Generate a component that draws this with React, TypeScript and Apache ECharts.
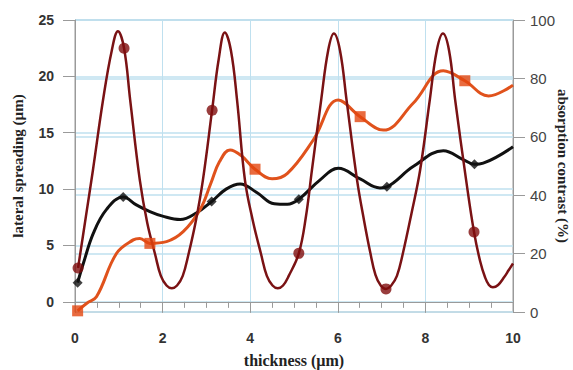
import React, { useEffect, useRef } from "react";
import * as echarts from "echarts";

// Dark red oscillating curve (left axis, µm scale)
const redX = [0.07, 0.25, 0.41, 0.64, 0.84, 0.98, 1.12, 1.26, 1.48, 1.65, 1.83, 1.96, 2.09, 2.21, 2.33, 2.46, 2.59, 2.76, 2.92, 3.13, 3.28, 3.42, 3.56, 3.7, 3.88, 4.06, 4.25, 4.38, 4.51, 4.63, 4.75, 4.88, 5.11, 5.27, 5.41, 5.62, 5.78, 5.91, 6.05, 6.2, 6.44, 6.6, 6.74, 6.86, 6.98, 7.1, 7.22, 7.35, 7.48, 7.68, 7.88, 8.1, 8.26, 8.4, 8.54, 8.68, 8.93, 9.11, 9.25, 9.36, 9.45, 9.54, 9.66, 9.8, 9.9, 10.0];
const redY = [3.0, 7.6, 11.7, 17.9, 22.3, 24.0, 22.5, 17.9, 10.8, 7.0, 4.2, 2.3, 1.45, 1.2, 1.45, 2.3, 4.2, 7.2, 10.8, 17.0, 21.5, 23.9, 22.3, 17.9, 10.8, 7.2, 4.2, 2.3, 1.45, 1.2, 1.45, 2.3, 4.3, 7.5, 11.7, 17.9, 22.3, 23.8, 22.3, 17.9, 10.8, 7.2, 4.4, 2.4, 1.45, 1.15, 1.45, 2.3, 4.2, 7.8, 11.7, 17.9, 22.3, 23.8, 22.3, 17.9, 10.8, 6.2, 3.6, 2.2, 1.5, 1.3, 1.5, 2.2, 2.8, 3.4];
const redMarkX = [0.07, 1.12, 3.13, 5.11, 7.1, 9.11];
const redMarkY = [3.0, 22.5, 17.0, 4.3, 1.15, 6.2];

// Black curve: lateral spreading (µm)
const blackX = [0.06, 0.19, 0.42, 0.72, 1.1, 1.4, 1.71, 2.0, 2.4, 2.78, 3.12, 3.45, 3.77, 4.15, 4.55, 4.85, 5.11, 5.59, 6.01, 6.51, 6.96, 7.12, 7.72, 8.41, 8.87, 9.12, 9.32, 10.0];
const blackY = [1.7, 3.4, 6.1, 8.2, 9.3, 8.6, 8.0, 7.6, 7.3, 7.9, 8.9, 10.0, 10.45, 9.7, 8.7, 8.65, 9.1, 10.8, 11.85, 10.9, 10.1, 10.2, 12.0, 13.4, 12.6, 12.2, 12.3, 13.75];
const blackMarkX = [0.06, 1.1, 3.12, 5.11, 7.12, 9.12];
const blackMarkY = [1.7, 9.3, 8.9, 9.1, 10.2, 12.2];

// Orange curve: absorption contrast (%)
const orangeX = [0.06, 0.27, 0.49, 0.95, 1.33, 1.48, 1.71, 2.09, 2.47, 2.85, 3.1, 3.3, 3.54, 3.8, 4.11, 4.5, 4.85, 5.44, 6.01, 6.51, 7.04, 7.72, 8.41, 8.9, 9.44, 10.0];
const orangeY = [0.4, 3.0, 5.2, 20.1, 24.7, 25.2, 23.5, 24.1, 27.5, 34.9, 44.0, 51.5, 55.5, 53.5, 48.9, 45.6, 47.5, 58.9, 72.6, 66.9, 62.3, 71.5, 82.6, 79.2, 74.0, 77.7];
const orangeMarkX = [0.06, 1.71, 4.11, 6.51, 8.9];
const orangeMarkY = [0.4, 23.5, 48.9, 66.9, 79.2];

const leftTicks = [0, 5, 10, 15, 20, 25];
const rightTicks = [0, 20, 40, 60, 80, 100];
const xTicks = [0, 2, 4, 6, 8, 10];

const zip = (xs: number[], ys: number[]) => xs.map((x, i) => [x, ys[i]]);

const RED = "#7a1214";
const BLACK = "#111111";
const ORANGE = "#e0521c";
const GRID_BLUE = "#bfe0ef";
const AXIS_GRAY = "#9a9a9a";

export default function App() {
  const ref = useRef<HTMLDivElement>(null);
  useEffect(() => {
    if (!ref.current) return;
    const chart = echarts.init(ref.current, null, { renderer: "svg" });
    chart.setOption({
      animation: false,
      backgroundColor: "#ffffff",
      grid: {
        left: 75, right: 60, top: 20, bottom: 58, show: true, borderColor: AXIS_GRAY, borderWidth: 1,
        containLabel: false, outerBoundsMode: "none",
      },
      xAxis: {
        type: "value",
        min: xTicks[0],
        max: xTicks[xTicks.length - 1],
        interval: 2,
        name: "thickness (µm)",
        nameLocation: "middle",
        nameGap: 40,
        nameMoveOverlap: false,
        nameTextStyle: { fontFamily: "Liberation Serif", fontWeight: "bold", fontSize: 16, color: "#222" },
        axisLine: { lineStyle: { color: AXIS_GRAY, width: 1 } },
        axisTick: { show: true, length: 11, lineStyle: { color: AXIS_GRAY } },
        minorTick: { show: true, splitNumber: 4, length: 6, lineStyle: { color: AXIS_GRAY } },
        axisLabel: { margin: 19, fontFamily: "Liberation Sans", fontWeight: "bold", fontSize: 14, color: "#333" },
        splitLine: { show: true, lineStyle: { color: GRID_BLUE, width: 1 } },
      },
      yAxis: [
        {
          type: "value",
          min: -0.9,
          max: 25,
          position: "left",
          name: "lateral spreading (µm)",
          nameLocation: "middle",
          nameGap: 50,
          nameMoveOverlap: false,
          nameTextStyle: { fontFamily: "Liberation Serif", fontWeight: "bold", fontSize: 15, color: "#222" },
          axisLine: { show: true, lineStyle: { color: AXIS_GRAY } },
          axisTick: { show: true, length: 12, customValues: leftTicks, lineStyle: { color: AXIS_GRAY } },
          axisLabel: { customValues: leftTicks, margin: 21, fontFamily: "Liberation Sans", fontWeight: "bold", fontSize: 14, color: "#333" },
          splitLine: { show: true, lineStyle: { color: GRID_BLUE, width: 1.5 } },
        },
        {
          type: "value",
          min: rightTicks[0],
          max: rightTicks[rightTicks.length - 1],
          interval: 20,
          position: "right",
          name: "absorption contrast (%)",
          nameLocation: "middle",
          nameGap: 42,
          nameRotate: -90,
          nameMoveOverlap: false,
          nameTextStyle: { fontFamily: "Liberation Serif", fontWeight: "bold", fontSize: 15, color: "#222" },
          axisLine: { show: true, lineStyle: { color: AXIS_GRAY } },
          axisTick: { show: true, length: 12, lineStyle: { color: AXIS_GRAY } },
          axisLabel: { margin: 17, fontFamily: "Liberation Sans", fontSize: 15, color: "#444" },
          splitLine: { show: true, lineStyle: { color: GRID_BLUE, width: 1.5 } },
        },
      ],
      series: [
        {
          type: "line", yAxisIndex: 0, data: zip(blackX, blackY), smooth: 0.4, showSymbol: false,
          lineStyle: { color: BLACK, width: 3 }, z: 2,
        },
        {
          type: "line", yAxisIndex: 1, data: zip(orangeX, orangeY), smooth: 0.4, showSymbol: false,
          lineStyle: { color: ORANGE, width: 3 }, z: 3,
        },
        {
          type: "line", yAxisIndex: 0, data: zip(redX, redY), smooth: 0.4, showSymbol: false,
          lineStyle: { color: RED, width: 2.5 }, z: 4,
        },
        {
          type: "scatter", yAxisIndex: 0, data: zip(blackMarkX, blackMarkY), symbol: "diamond", symbolSize: 10,
          itemStyle: { color: BLACK }, z: 5,
        },
        {
          type: "scatter", yAxisIndex: 1, data: zip(orangeMarkX, orangeMarkY), symbol: "rect", symbolSize: 11,
          itemStyle: { color: "#e4460f" }, z: 5,
        },
        {
          type: "scatter", yAxisIndex: 0, data: zip(redMarkX, redMarkY), symbol: "circle", symbolSize: 11,
          itemStyle: { color: "#7f0c0c" }, z: 6,
        },
      ],
    });
    return () => chart.dispose();
  }, []);
  return <div ref={ref} style={{ position: "fixed", left: 0, top: 0, width: 573, height: 370 }} />;
}
